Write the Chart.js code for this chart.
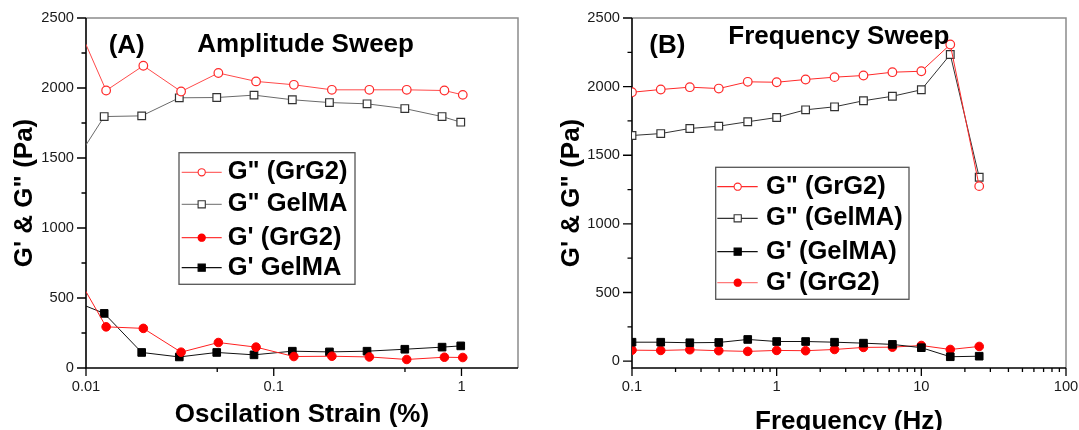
<!DOCTYPE html>
<html><head><meta charset="utf-8">
<script src="https://cdn.jsdelivr.net/npm/chart.js@4.4.0/dist/chart.umd.min.js"></script>
<style>
html,body{margin:0;padding:0;background:#fff;width:1079px;height:430px;overflow:hidden}
canvas{position:absolute;top:0}
</style></head><body>
<canvas id="cA" width="540" height="430" style="left:0"></canvas>
<canvas id="cB" width="539" height="430" style="left:540px"></canvas>
<script>
const FONT = "'Liberation Sans', Arial, Helvetica, sans-serif";

// ---------- Panel A : amplitude sweep ----------
const strainGrG2  = [0.00808, 0.0128, 0.0202, 0.0321, 0.0507, 0.0805, 0.128, 0.204, 0.323, 0.511, 0.811, 1.016];
const strainGelMA = [0.00782, 0.0125, 0.0198, 0.0314, 0.0497, 0.0785, 0.1256, 0.198, 0.314, 0.499, 0.788, 0.991];
const ampLossGrG2  = [2593, 1982, 2159, 1975, 2107, 2047, 2023, 1987, 1987, 1987, 1982, 1951];
const ampLossGelMA = [1370, 1796, 1801, 1930, 1932, 1949, 1916, 1896, 1887, 1853, 1796, 1756];
const ampStorGrG2  = [762, 294, 283, 113, 182, 149, 82, 84, 79, 61, 77, 75];
const ampStorGelMA = [500, 390, 111, 79, 111, 94, 120, 115, 120, 134, 149, 158];
const ampXTicks = [0.01, 0.1, 1];
const ampXTickLabels = ['0.01', '0.1', '1'];
const ampXMinor = [0.05, 0.5];

// ---------- Panel B : frequency sweep ----------
const freqHz = [0.1, 0.158, 0.251, 0.398, 0.631, 1, 1.585, 2.512, 3.981, 6.31, 10, 15.85, 25.12];
const frqLossGrG2  = [1959, 1979, 1996, 1986, 2035, 2032, 2052, 2069, 2081, 2105, 2112, 2307, 1275];
const frqLossGelMA = [1644, 1658, 1695, 1712, 1744, 1775, 1831, 1853, 1897, 1930, 1977, 2234, 1340];
const frqStorGelMA = [138, 138, 134, 136, 158, 143, 143, 138, 131, 122, 98, 32, 36];
const frqStorGrG2  = [80, 78, 83, 76, 71, 78, 76, 85, 100, 102, 114, 85, 107];
const frqXTicks = [0.1, 1, 10, 100];
const frqXTickLabels = ['0.1', '1', '10', '100'];
const frqXMinor = [0.2,0.3,0.4,0.5,0.6,0.7,0.8,0.9, 2,3,4,5,6,7,8,9, 20,30,40,50,60,70,80,90];

// ---------- shared y axis ----------
const yTicks = [0, 500, 1000, 1500, 2000, 2500];
const yTickLabels = ['0', '500', '1000', '1500', '2000', '2500'];
const yMinor = [250, 750, 1250, 1750, 2250];

// ---------- styles ----------
const ST = {
  lossGrG2A:  {line:'#ff4a4a', shape:'circle', r:4.3, fill:'#ffffff', stroke:'#ff2a2a', lw:1.2},
  lossGelMAA: {line:'#6a6a6a', shape:'rect',   r:5.4, fill:'#ffffff', stroke:'#333333', lw:1.2},
  storGrG2:   {line:'#ff2020', shape:'circle', r:4.3, fill:'#ff0000', stroke:'#ff0000', lw:1},
  storGelMA:  {line:'#111111', shape:'rect',   r:5.4, fill:'#000000', stroke:'#000000', lw:1},
  lossGrG2B:  {line:'#ff2a2a', shape:'circle', r:4.3, fill:'#ffffff', stroke:'#ff2a2a', lw:1.2},
  lossGelMAB: {line:'#333333', shape:'rect',   r:5.4, fill:'#ffffff', stroke:'#333333', lw:1.2}
};

function ds(label, xs, ys, st) {
  return {
    label, data: xs.map((x, i) => ({x, y: ys[i]})),
    borderColor: st.line, borderWidth: 1, tension: 0, fill: false,
    pointStyle: st.shape, pointRadius: st.r, pointHoverRadius: st.r,
    pointBackgroundColor: st.fill, pointBorderColor: st.stroke, pointBorderWidth: st.lw,
    _st: st
  };
}

function drawMarker(ctx, shape, x, y, r, fill, stroke, lw) {
  ctx.beginPath();
  if (shape === 'circle') ctx.arc(x, y, r, 0, Math.PI * 2);
  else ctx.rect(x - r, y - r, 2 * r, 2 * r);
  ctx.fillStyle = fill; ctx.fill();
  ctx.lineWidth = lw; ctx.strokeStyle = stroke; ctx.stroke();
}

const decor = {
  id: 'decor',
  beforeDatasetsDraw(chart, args, o) {
    const {ctx, chartArea: a, scales: {x, y}} = chart;
    ctx.save();
    ctx.strokeStyle = '#8c8c8c'; ctx.lineWidth = 1.5;
    ctx.beginPath(); ctx.moveTo(a.left, a.top); ctx.lineTo(a.right, a.top); ctx.lineTo(a.right, a.bottom); ctx.stroke();
    ctx.strokeStyle = '#000'; ctx.lineWidth = 1.3;
    ctx.beginPath();
    o.xMajor.forEach(v => { const p = x.getPixelForValue(v); ctx.moveTo(p, a.bottom); ctx.lineTo(p, a.bottom + 8); });
    o.xMinor.forEach(v => { const p = x.getPixelForValue(v); ctx.moveTo(p, a.bottom); ctx.lineTo(p, a.bottom + 4); });
    o.yMajor.forEach(v => { const p = y.getPixelForValue(v); ctx.moveTo(a.left, p); ctx.lineTo(a.left - 9, p); });
    o.yMinor.forEach(v => { const p = y.getPixelForValue(v); ctx.moveTo(a.left, p); ctx.lineTo(a.left - 4.5, p); });
    ctx.stroke();
    ctx.lineWidth = 1.6;
    ctx.beginPath(); ctx.moveTo(a.left, a.top); ctx.lineTo(a.left, a.bottom); ctx.lineTo(a.right, a.bottom); ctx.stroke();
    ctx.restore();
  },
  afterDraw(chart, args, o) {
    const ctx = chart.ctx;
    ctx.save();
    ctx.textBaseline = 'middle'; ctx.textAlign = 'center'; ctx.fillStyle = '#000';
    o.titles.forEach(t => {
      ctx.font = 'bold ' + t.size + 'px ' + FONT;
      ctx.fillText(t.text, t.x, t.y);
    });
    const L = o.legend;
    ctx.fillStyle = '#fff'; ctx.fillRect(L.x, L.y, L.w, L.h);
    ctx.strokeStyle = '#555'; ctx.lineWidth = 1.3; ctx.strokeRect(L.x, L.y, L.w, L.h);
    L.items.forEach((idx, i) => {
      const d = chart.data.datasets[idx], st = d._st, yy = L.rows[i];
      ctx.strokeStyle = L.lineColors[i]; ctx.lineWidth = 1.2;
      ctx.beginPath(); ctx.moveTo(L.l0, yy); ctx.lineTo(L.l1, yy); ctx.stroke();
      drawMarker(ctx, st.shape, L.mx, yy, 3.6, st.fill, st.stroke, 1.1);
      ctx.fillStyle = '#000'; ctx.textAlign = 'left';
      ctx.font = 'bold 25.5px ' + FONT;
      ctx.fillText(d.label, L.tx, yy);
    });
    ctx.restore();
  }
};

function makeOptions(cfg) {
  const tickFont = {family: FONT, size: 14.7};
  return {
    responsive: false, animation: false, devicePixelRatio: 1,
    layout: {padding: {left: 0, top: 18, right: cfg.padRight, bottom: 0}},
    plugins: {legend: {display: false}, tooltip: {enabled: false}, decor: cfg.decor},
    scales: {
      x: {
        type: 'logarithmic', min: cfg.xMin, max: cfg.xMax,
        afterBuildTicks: s => { s.ticks = cfg.xTicks.map(v => ({value: v})); },
        afterFit: s => { s.height = 62; s.paddingLeft = 0; s.paddingRight = 0; },
        grid: {display: false, drawTicks: false}, border: {display: false},
        ticks: {autoSkip: false, maxRotation: 0, padding: 10.2, color: '#1a1a1a', font: tickFont,
                callback: v => cfg.xLabels[cfg.xTicks.indexOf(v)] ?? ''},
        title: {display: true, text: cfg.xTitle, color: '#000',
                font: {family: FONT, size: 26, weight: 'bold', lineHeight: cfg.xTitleLH},
                padding: {top: 0, bottom: cfg.xTitlePad}}
      },
      y: {
        type: 'linear', min: cfg.yMin, max: 2500,
        afterBuildTicks: s => { s.ticks = yTicks.map(v => ({value: v})); },
        afterFit: s => { s.width = cfg.yWidth; s.paddingTop = 0; s.paddingBottom = 0; },
        grid: {display: false, drawTicks: false}, border: {display: false},
        ticks: {padding: 12, color: '#1a1a1a', font: tickFont,
                callback: v => yTickLabels[yTicks.indexOf(v)] ?? ''},
        title: {display: true, text: 'G\' & G" (Pa)', color: '#000',
                font: {family: FONT, size: 26, weight: 'bold', lineHeight: 1},
                padding: {top: cfg.yTitlePad, bottom: 0}}
      }
    }
  };
}

new Chart(document.getElementById('cA'), {
  type: 'line',
  data: {datasets: [
    ds('G" (GrG2)', strainGrG2, ampLossGrG2, ST.lossGrG2A),
    ds('G" GelMA', strainGelMA, ampLossGelMA, ST.lossGelMAA),
    ds('G\' (GrG2)', strainGrG2, ampStorGrG2, ST.storGrG2),
    ds('G\' GelMA', strainGelMA, ampStorGelMA, ST.storGelMA)
  ]},
  options: makeOptions({
    padRight: 22, yWidth: 86, yMin: 0, xMin: 0.01, xMax: 2,
    xTicks: ampXTicks, xLabels: ampXTickLabels,
    xTitle: 'Oscilation Strain (%)', xTitleLH: 1, xTitlePad: 2.5, yTitlePad: 12,
    decor: {
      xMajor: ampXTicks, xMinor: ampXMinor, yMajor: yTicks, yMinor: yMinor,
      titles: [{text: '(A)', x: 126.7, y: 45.5, size: 26}, {text: 'Amplitude Sweep', x: 305.6, y: 44.5, size: 26}],
      legend: {x: 179, y: 152.7, w: 176, h: 131.6, l0: 181.7, l1: 221.7, mx: 201.7, tx: 227.7,
               rows: [172.3, 204.3, 237.7, 267.7], items: [0, 1, 2, 3],
               lineColors: ['#ff6a6a', '#888888', '#ff3a3a', '#111111']}
    }
  }),
  plugins: [decor]
});

new Chart(document.getElementById('cB'), {
  type: 'line',
  data: {datasets: [
    ds('G" (GrG2)', freqHz, frqLossGrG2, ST.lossGrG2B),
    ds('G" (GelMA)', freqHz, frqLossGelMA, ST.lossGelMAB),
    ds('G\' (GelMA)', freqHz, frqStorGelMA, ST.storGelMA),
    ds('G\' (GrG2)', freqHz, frqStorGrG2, ST.storGrG2)
  ]},
  options: makeOptions({
    padRight: 13, yWidth: 92, yMin: -50, xMin: 0.1, xMax: 100,
    xTicks: frqXTicks, xLabels: frqXTickLabels,
    xTitle: 'Frequency (Hz)', xTitleLH: 0.62, xTitlePad: 0, yTitlePad: 19,
    decor: {
      xMajor: frqXTicks, xMinor: frqXMinor, yMajor: yTicks, yMinor: yMinor,
      titles: [{text: '(B)', x: 127.4, y: 46.3, size: 26}, {text: 'Frequency Sweep', x: 298.9, y: 37, size: 26}],
      legend: {x: 175.7, y: 167.3, w: 193.3, h: 132, l0: 177.3, l1: 217.7, mx: 197.7, tx: 226,
               rows: [186.7, 218.3, 251.7, 282.7], items: [0, 1, 2, 3],
               lineColors: ['#ff2a2a', '#333333', '#111111', '#ff7a7a']}
    }
  }),
  plugins: [decor]
});
</script>
</body></html>
